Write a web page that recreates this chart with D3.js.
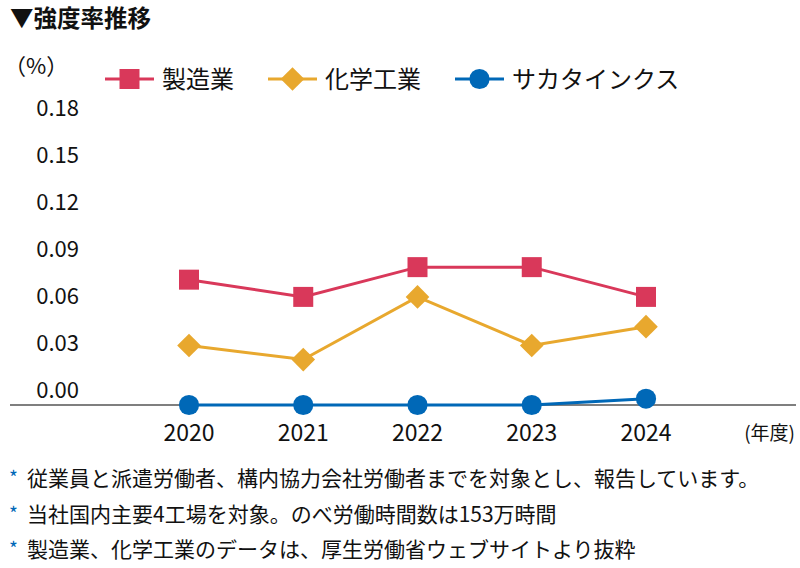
<!DOCTYPE html>
<html>
<head>
<meta charset="utf-8">
<script src="https://cdn.jsdelivr.net/npm/d3@7"></script>
<style>
  body { margin: 0; background: #fff; }
  svg text { font-family: 'Noto Sans CJK JP', 'Noto Sans', sans-serif; fill: #111; }
</style>
</head>
<body>
<div id="chart"></div>
<script>
const years = ['2020', '2021', '2022', '2023', '2024']
const yTicks = [0, 0.03, 0.06, 0.09, 0.12, 0.15, 0.18]
const seriesNames = ['製造業', '化学工業', 'サカタインクス']
const manufacturing = [0.08, 0.069, 0.088, 0.088, 0.069]
const chemical = [0.038, 0.029, 0.069, 0.038, 0.05]
const sakata = [0, 0, 0, 0, 0.004]
const notes = [
  '従業員と派遣労働者、構内協力会社労働者までを対象とし、報告しています。',
  '当社国内主要4工場を対象。のべ労働時間数は153万時間',
  '製造業、化学工業のデータは、厚生労働省ウェブサイトより抜粋'
]

const width = 800
const height = 568
const colors = ['#d9385a', '#e8a82e', '#0068b7']

// square diamond (rotated square), d3's own diamond is too narrow
const diamond = {
  draw (ctx, size) {
    const r = Math.sqrt(size / 2)
    ctx.moveTo(0, -r)
    ctx.lineTo(r, 0)
    ctx.lineTo(0, r)
    ctx.lineTo(-r, 0)
    ctx.closePath()
  }
}
const symbols = [d3.symbolSquare, diamond, d3.symbolCircle]
const symbolSizes = [400, 280, 320]

const svg = d3.select('#chart')
  .append('svg')
  .attr('width', width)
  .attr('height', height)

const x = d3.scalePoint()
  .domain(years)
  .range([189, 646])

const y = d3.scaleLinear()
  .domain([0, 0.18])
  .range([405, 123])

// title
svg.append('text')
  .attr('x', 10)
  .attr('y', 27)
  .style('font-size', '23.5px')
  .style('font-weight', 'bold')
  .text('▼強度率推移')

svg.append('text')
  .attr('x', 4)
  .attr('y', 74)
  .style('font-size', '22px')
  .text('（%）')

// y tick labels (drawn above their values, as in the source)
svg.selectAll('.ytick')
  .data(yTicks)
  .enter()
  .append('text')
  .attr('class', 'ytick')
  .attr('x', 79)
  .attr('y', (d) => y(d) - 7)
  .attr('text-anchor', 'end')
  .style('font-size', '22px')
  .text((d) => d.toFixed(2))

// baseline
svg.append('line')
  .attr('x1', 10)
  .attr('x2', 796)
  .attr('y1', y(0))
  .attr('y2', y(0))
  .attr('stroke', '#555')
  .attr('stroke-width', 1.5)

// x labels
svg.selectAll('.xtick')
  .data(years)
  .enter()
  .append('text')
  .attr('class', 'xtick')
  .attr('x', (d) => x(d))
  .attr('y', 441)
  .attr('text-anchor', 'middle')
  .style('font-size', '23px')
  .text((d) => d)

svg.append('text')
  .attr('x', 795)
  .attr('y', 440)
  .attr('text-anchor', 'end')
  .style('font-size', '19px')
  .text('(年度)')

const allSeries = [manufacturing, chemical, sakata]
const line = d3.line()
  .x((d, i) => x(years[i]))
  .y((d) => y(d))

allSeries.forEach((values, s) => {
  svg.append('path')
    .datum(values)
    .attr('d', line)
    .attr('fill', 'none')
    .attr('stroke', colors[s])
    .attr('stroke-width', 3)

  svg.selectAll('.pt' + s)
    .data(values)
    .enter()
    .append('path')
    .attr('class', 'pt' + s)
    .attr('transform', (d, i) => `translate(${x(years[i])},${y(d)})`)
    .attr('d', d3.symbol().type(symbols[s]).size(symbolSizes[s]))
    .attr('fill', colors[s])
})

// legend
const legendX = [105, 268, 455]
seriesNames.forEach((name, s) => {
  const g = svg.append('g').attr('transform', `translate(${legendX[s]},79)`)
  g.append('line')
    .attr('x1', 0)
    .attr('x2', 49)
    .attr('stroke', colors[s])
    .attr('stroke-width', 3)
  g.append('path')
    .attr('transform', 'translate(24.5,0)')
    .attr('d', d3.symbol().type(symbols[s]).size(symbolSizes[s]))
    .attr('fill', colors[s])
  g.append('text')
    .attr('x', 57)
    .attr('y', 8.5)
    .style('font-size', '24px')
    .text(name)
})

// footnotes
notes.forEach((t, i) => {
  const yy = 486 + i * 35.5
  svg.append('text')
    .attr('x', 9)
    .attr('y', yy - 1)
    .style('font-size', '19px')
    .style('fill', '#0068b7')
    .text('*')
  svg.append('text')
    .attr('x', 27)
    .attr('y', yy)
    .style('font-size', '21px')
    .text(t)
})
</script>
</body>
</html>
